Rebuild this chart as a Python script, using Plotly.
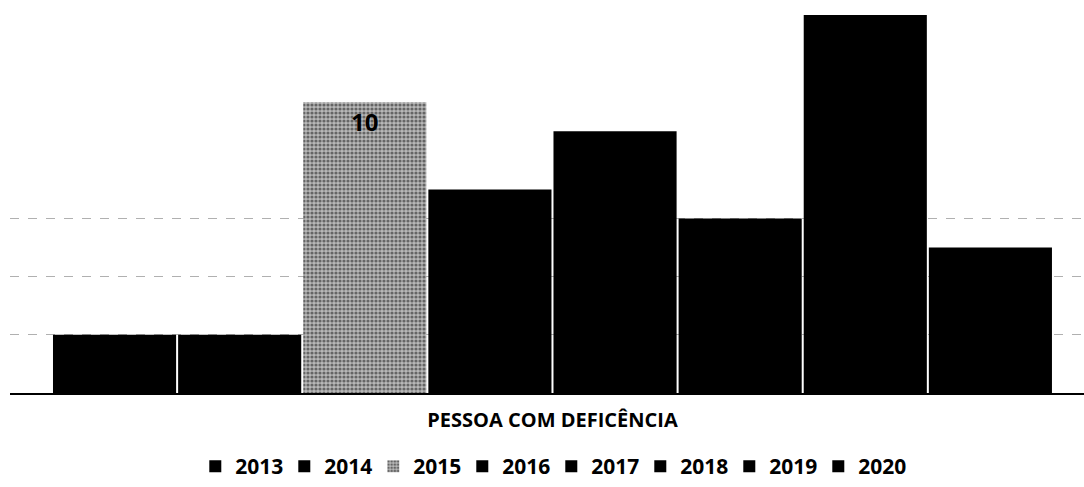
import plotly.graph_objects as go

categories = ["PESSOA COM DEFICÊNCIA"]
years = ["2013", "2014", "2015", "2016", "2017", "2018", "2019", "2020"]
values = [2, 2, 10, 7, 9, 6, 13, 5]
labels = ["", "", "10", "", "", "", "", ""]

fig = go.Figure()
for yr, v, lab in zip(years, values, labels):
    if yr == "2015":
        marker = dict(color="#9a9a9a",
                      pattern=dict(shape=".", fgcolor="#111111", bgcolor="#b8b8b8",
                                   size=4, solidity=0.5, fillmode="overlay"),
                      line=dict(width=0))
    else:
        marker = dict(color="#000000", line=dict(width=0))
    fig.add_trace(go.Bar(
        name=yr, x=categories, y=[v], marker=marker,
        text=[lab] if lab else None,
        textposition="inside", insidetextanchor="end",
        textfont=dict(family="Open Sans", size=24, color="#000000", weight="bold"),
    ))

fig.update_layout(
    width=1084, height=487,
    margin=dict(l=10, r=0, t=15, b=94),
    paper_bgcolor="white", plot_bgcolor="white",
    barmode="group", bargap=0.068, bargroupgap=0.016,
    showlegend=True,
    legend=dict(orientation="h", x=0.504, xanchor="center", y=-0.196, yanchor="middle",
                font=dict(family="Open Sans", size=21, color="#000000", weight="bold"),
                traceorder="normal", entrywidth=44, entrywidthmode="pixels"),
    font=dict(family="Open Sans", color="#000000"),
)
fig.update_xaxes(range=[-0.5051, 0.4949], showline=True, linecolor="#000000", linewidth=2,
                 ticks="", tickfont=dict(family="Open Sans", size=20, color="#000000", weight="bold"),
                 ticklabelstandoff=8)
fig.update_yaxes(range=[0, 13], tickvals=[2, 4, 6], showticklabels=False,
                 showgrid=True, gridcolor="#b0b0b0", griddash="dash", gridwidth=1,
                 zeroline=False, showline=False)

fig.write_html("out.html", config={"displayModeBar": False},
               post_script="document.body.style.margin='0';document.body.style.padding='0';")
